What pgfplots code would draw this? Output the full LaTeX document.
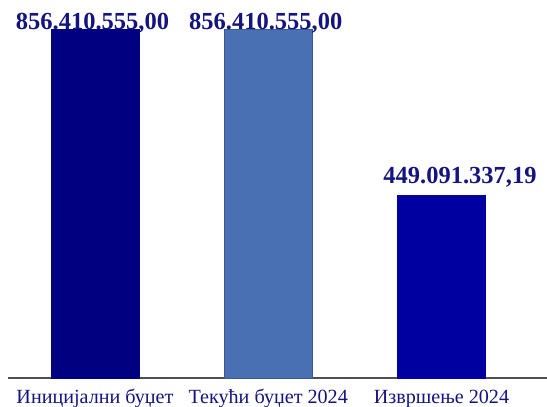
\documentclass[border=0pt]{standalone}
\usepackage{fontspec}
\setmainfont{Liberation Serif}
\usepackage{pgfplots}
\pgfplotsset{compat=1.18}
\definecolor{cone}{HTML}{000080}
\definecolor{ctwo}{HTML}{4A70B4}
\definecolor{ctwoedge}{HTML}{3A5A90}
\definecolor{cthree}{HTML}{0000A0}
\definecolor{ctext}{HTML}{14147F}
\definecolor{caxis}{HTML}{505050}
\begin{document}
\begin{tikzpicture}
\useasboundingbox (0,0) rectangle (547bp,407bp);
\begin{axis}[
  at={(8bp,29bp)}, anchor=south west,
  scale only axis, width=539bp, height=378bp,
  xmin=-0.502, xmax=2.609, ymin=0, ymax=927600000,
  axis x line*=bottom, axis y line=none,
  axis line style={-, draw=caxis, line width=1.3bp},
  ytick=\empty,
  xtick={0,1,2},
  xticklabels={Иницијални буџет, Текући буџет 2024, Извршење 2024},
  major tick length=0pt,
  xticklabel style={font=\fontsize{20.2}{22}\selectfont, text=ctext, anchor=base, yshift=-25bp, inner sep=0pt},
  ybar, bar width=0.508, bar shift=0pt,
  clip=false,
  point meta=explicit symbolic,
  nodes near coords,
  nodes near coords style={anchor=base, inner sep=0pt, font=\bfseries\fontsize{24.6}{26}\selectfont, text=ctext},
]
\addplot[fill=cone, draw=cone, nodes near coords style={xshift=-2.5bp, yshift=0bp}] coordinates {(0,856410555.00) [{856.410.555,00}]};
\addplot[fill=ctwo, draw=ctwoedge, line width=0.8bp, nodes near coords style={xshift=-2.5bp, yshift=0bp}] coordinates {(1,856410555.00) [{856.410.555,00}]};
\addplot[fill=cthree, draw=cthree, nodes near coords style={xshift=18.5bp, yshift=11bp}] coordinates {(2,449091337.19) [{449.091.337,19}]};
\end{axis}
\end{tikzpicture}
\end{document}
